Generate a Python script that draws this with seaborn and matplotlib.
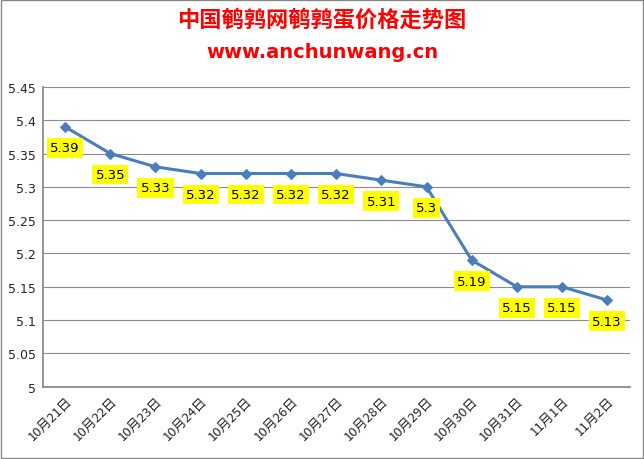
import matplotlib
matplotlib.use("Agg")
import matplotlib.pyplot as plt
import seaborn as sns
import pandas as pd

dates = ["10月21日","10月22日","10月23日","10月24日","10月25日","10月26日","10月27日",
         "10月28日","10月29日","10月30日","10月31日","11月1日","11月2日"]
prices = [5.39,5.35,5.33,5.32,5.32,5.32,5.32,5.31,5.3,5.19,5.15,5.15,5.13]
labels = ["5.39","5.35","5.33","5.32","5.32","5.32","5.32","5.31","5.3","5.19","5.15","5.15","5.13"]
yticks = [5,5.05,5.1,5.15,5.2,5.25,5.3,5.35,5.4,5.45]

sns.set_theme(style="white")
plt.rcParams['font.family'] = ['Noto Sans CJK SC', 'DejaVu Sans']

df = pd.DataFrame({"d": dates, "p": prices, "x": range(len(dates))})
fig = plt.figure(figsize=(6.44, 4.60), dpi=100)
fig.patches.append(plt.Rectangle((0.002, 0.002), 0.996, 0.996, transform=fig.transFigure,
                                 fill=False, edgecolor="#888888", lw=1))
ax = fig.add_axes([0.066, 0.157, 0.912, 0.652])
sns.lineplot(data=df, x="x", y="p", ax=ax, color="#4A7EBB", lw=2.2, marker="D",
             markersize=5, markeredgecolor="#4A7EBB")
ax.set_xlim(-0.5, len(dates) - 0.5)
ax.set_ylim(5, 5.45)
ax.set_yticks(yticks)
ax.set_yticklabels([f"{v:g}" for v in yticks], fontsize=9, family="DejaVu Sans")
ax.set_xticks(range(len(dates)))
ax.set_xticklabels(dates, rotation=45, ha="right", rotation_mode="anchor", fontsize=9.5)
ax.tick_params(axis="both", length=0, pad=5)
ax.yaxis.grid(True, color="#8c8c8c", lw=0.8)
ax.set_xlabel(""); ax.set_ylabel("")
for s in ["top", "right"]:
    ax.spines[s].set_visible(False)
for s in ["left", "bottom"]:
    ax.spines[s].set_color("#888888")
for i, (v, t) in enumerate(zip(prices, labels)):
    ax.annotate(t, (i, v), xytext=(0, -21), textcoords="offset pixels", ha="center", va="center",
                fontsize=9.5, family="DejaVu Sans", color="black",
                bbox=dict(boxstyle="square,pad=0.25", fc="#FFFF00", ec="none"))
fig.text(0.5, 0.955, "中国鹌鹑网鹌鹑蛋价格走势图", color="#FF0000", fontsize=16, weight="bold",
         ha="center", va="center")
fig.text(0.5, 0.885, "www.anchunwang.cn", color="#FF0000", fontsize=14, weight="bold",
         ha="center", va="center", family="DejaVu Sans")
fig.savefig("out.png", dpi=100)
